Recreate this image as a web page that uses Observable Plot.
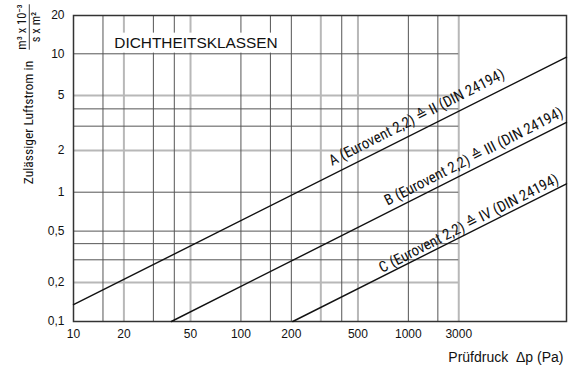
<!DOCTYPE html>
<html><head><meta charset="utf-8">
<script src="https://cdn.jsdelivr.net/npm/d3@7"></script>
<script src="https://cdn.jsdelivr.net/npm/@observablehq/plot@0.6"></script>
<style>
html,body{margin:0;padding:0;background:#fff;}
#chart{width:571px;height:374px;}
</style></head><body><div id="chart"></div>
<script>
// ---- data ----
const chartTitle = "DICHTHEITSKLASSEN";
const classes = ["A", "B", "C"];
const classLabels = [
  "A (Eurovent 2,2) \u2259 II (DIN 24194)",
  "B (Eurovent 2,2) \u2259 III (DIN 24194)",
  "C (Eurovent 2,2) \u2259 IV (DIN 24194)"
];
const startPressure = [10, 38.4, 204];      // Pa
const startFlow     = [0.135, 0.1, 0.1];    // m3 x 10^-3 / (s x m2)
const endPressure   = [8800, 8800, 8800];
const endFlow       = [9.45, 3.2, 1.15];
const labelPressure = [1121, 2458, 2295];
const labelFlow     = [3.47, 1.81, 0.573];

const xTickValues = [10, 20, 50, 100, 200, 500, 1000, 2000];
const xTickLabels = ["10", "20", "50", "100", "200", "500", "1000", "3000"];
const yTickValues = [0.1, 0.2, 0.5, 1, 2, 5, 10, 20];
const yTickLabels = ["0,1", "0,2", "0,5", "1", "2", "5", "10", "20"];
const xGridDark  = [15, 30, 40, 100, 150, 200, 400, 1000, 1500];
const xGridLight = [20, 50, 300, 500, 2000];
const yGridDark  = [0.3, 0.4, 0.5, 1, 3, 4, 10];
const yGridLight = [0.2, 2, 5];
const xDomain = [10, 8800];
const yDomain = [0.1, 1, 10, 20];
const xTitle = "Prüfdruck  \u0394p (Pa)";
const yTitle = "Zulässiger Luftstrom in";
const yUnitNum = "m\u00b3 x 10\u207b\u00b3";
const yUnitDen = "s x m\u00b2";

// ---- tables ----
const lineData = classes.flatMap((c, i) => [
  {cls: c, p: startPressure[i], q: startFlow[i]},
  {cls: c, p: endPressure[i], q: endFlow[i]}
]);
const labelData = classes.map((c, i) => ({cls: c, p: labelPressure[i], q: labelFlow[i], text: classLabels[i]}));

const narrow = "'Liberation Sans Narrow','Arial Narrow','Roboto Condensed','DejaVu Sans Condensed',sans-serif";
const W = 571, H = 374;
const mL = 73, mR = 5, mT = 15, mB = 53;

const svg = Plot.plot({
  width: W, height: H,
  marginLeft: mL, marginRight: mR, marginTop: mT, marginBottom: mB,
  style: {fontFamily: "'Liberation Sans',Arial,sans-serif", fontSize: "12px", background: "#fff", color: "#111"},
  x: {type: "log", domain: xDomain, range: [mL, W - mR], axis: null},
  y: {type: "log", domain: yDomain, range: [H - mB, 191.7, 53.3, mT], axis: null},
  marks: [
    Plot.ruleX(xGridLight, {stroke: "#b8b8b8", strokeWidth: 2}),
    Plot.ruleY(yGridLight, {x1: xDomain[0], x2: 2000, stroke: "#b8b8b8", strokeWidth: 2}),
    Plot.ruleX(xGridDark, {stroke: "#555", strokeWidth: 1}),
    Plot.ruleY(yGridDark, {x1: xDomain[0], x2: 2000, stroke: "#555", strokeWidth: 1}),
    Plot.frame({stroke: "#333", strokeWidth: 1.5}),
    Plot.line(lineData, {x: "p", y: "q", z: "cls", stroke: "#111", strokeWidth: 1.4}),
    Plot.text(labelData, {x: "p", y: "q", text: "text", rotate: -27, fontSize: 15, fontFamily: narrow, fill: "#111"}),
    Plot.text([chartTitle], {frameAnchor: "top-left", dx: 122.5, dy: 21.2, textAnchor: "middle", fontSize: 15.4, fill: "#111"}),
    Plot.text([xTitle], {frameAnchor: "bottom-right", dx: -3, dy: 40, textAnchor: "end", fontSize: 14, fill: "#111"}),
    Plot.text(xTickValues, {x: d => d, frameAnchor: "bottom", dy: 16.7, text: (d, i) => xTickLabels[i], fontSize: 12, fill: "#111"}),
    Plot.text(yTickValues, {y: d => d, frameAnchor: "left", dx: -9, textAnchor: "end", text: (d, i) => yTickLabels[i], fontSize: 12, fill: "#111"})
  ]
});
document.getElementById("chart").appendChild(svg);

const root = d3.select(svg);
const svgBox = svg.getBoundingClientRect();
// white box behind the title
const tnode = root.selectAll("text").filter(function () { return this.textContent === chartTitle; }).node();
if (tnode) {
  const b = tnode.getBoundingClientRect();
  const g = tnode.parentNode;
  const rect = document.createElementNS("http://www.w3.org/2000/svg", "rect");
  rect.setAttribute("x", b.left - svgBox.left - 5);
  rect.setAttribute("y", b.top - svgBox.top - 1);
  rect.setAttribute("width", b.width + 10);
  rect.setAttribute("height", b.height + 3);
  rect.setAttribute("fill", "#fff");
  g.parentNode.insertBefore(rect, g);
}
// y axis title with unit fraction
const yt = root.append("g").attr("fill", "#111").attr("font-family", narrow);
yt.append("text").attr("transform", "translate(28,122.5) rotate(-90)")
  .attr("text-anchor", "middle").attr("dy", "0.35em").attr("font-size", 13.5).text(yTitle);
const num = yt.append("text").attr("transform", "translate(22,27) rotate(-90)")
  .attr("text-anchor", "middle").attr("dy", "0.35em").attr("font-size", 12.5).text(yUnitNum);
yt.append("text").attr("transform", "translate(36,27) rotate(-90)")
  .attr("text-anchor", "middle").attr("dy", "0.35em").attr("font-size", 12.5).text(yUnitDen);
const nb = num.node().getBoundingClientRect();
yt.append("line").attr("x1", 29.3).attr("x2", 29.3)
  .attr("y1", nb.top - svgBox.top).attr("y2", nb.bottom - svgBox.top)
  .attr("stroke", "#444").attr("stroke-width", 1);
</script>
</body></html>
